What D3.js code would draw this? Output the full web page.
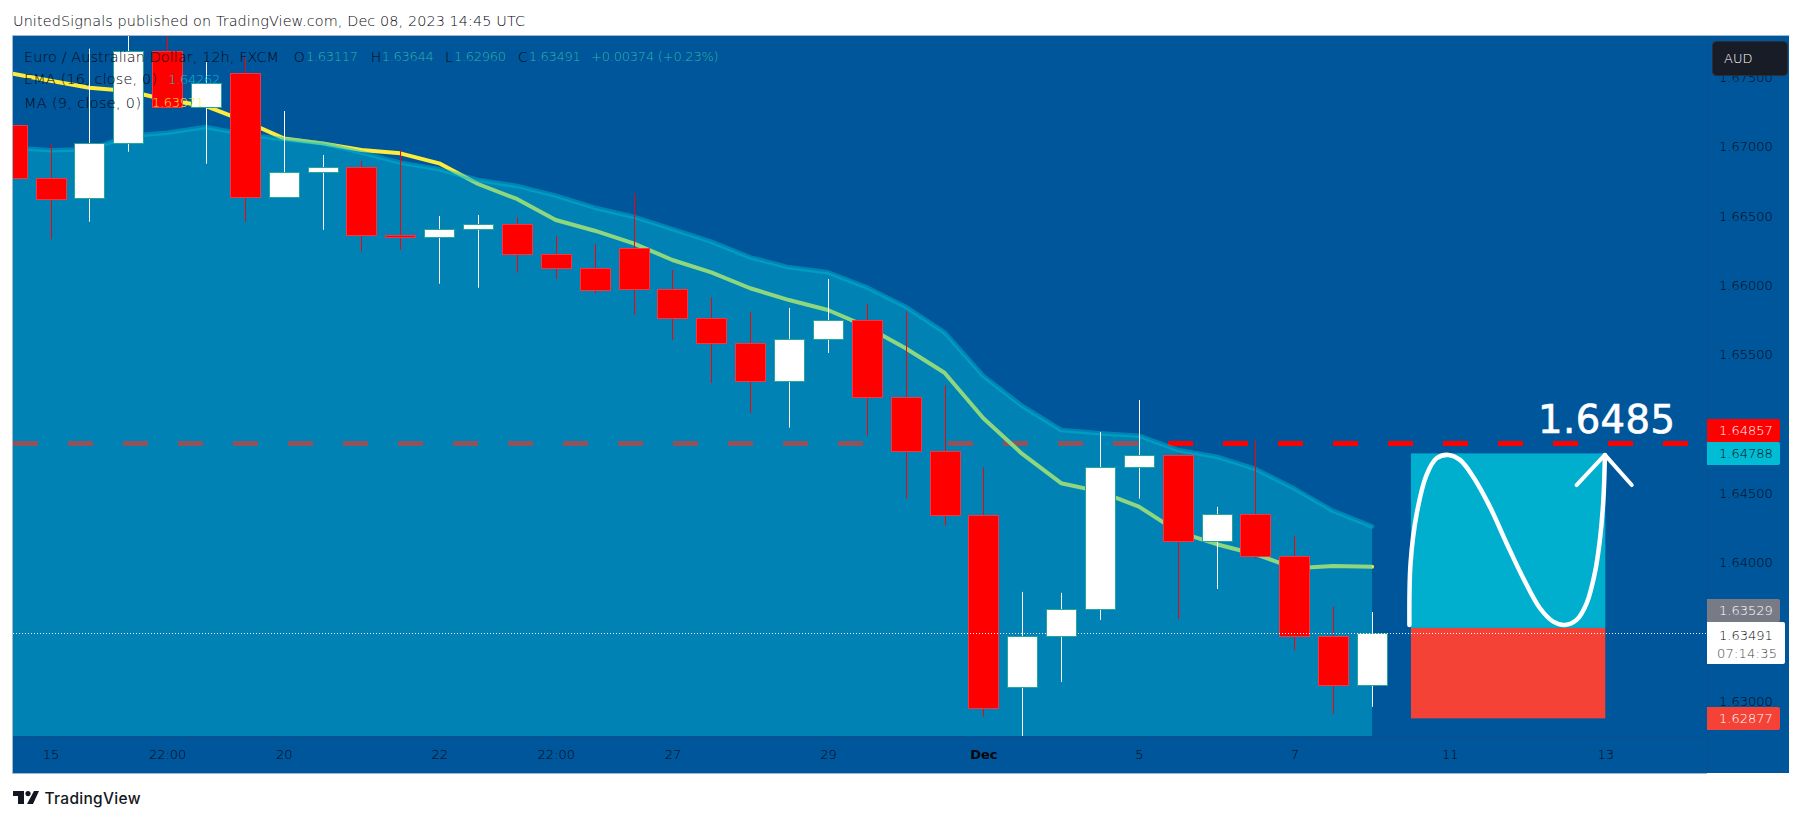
<!DOCTYPE html>
<html><head><meta charset="utf-8">
<style>
html,body{margin:0;padding:0;background:#fff;}
svg{display:block;}
text{font-family:"DejaVu Sans",sans-serif;font-weight:200;}
</style>
<script src="https://cdn.jsdelivr.net/npm/d3@7"></script>
</head><body><svg id="c" width="1803" height="821"></svg>
<script>
const barIndex=[-1,0,1,2,3,4,5,6,7,8,9,10,11,12,13,14,15,16,17,18,19,20,21,22,23,24,25,26,27,28,29,30,31,32,33,34];
const opens=[1.67154,1.66772,1.66628,1.67024,1.67688,1.67288,1.67529,1.66639,1.66815,1.66851,1.66361,1.66347,1.66404,1.66439,1.66223,1.66122,1.66267,1.65972,1.65762,1.65582,1.65308,1.65611,1.65748,1.65193,1.64803,1.64342,1.63101,1.63469,1.63664,1.64692,1.64775,1.64154,1.64349,1.64045,1.63469,1.63117];
const highs=[1.6722,1.67022,1.67707,1.6795,1.6790,1.67611,1.67647,1.67257,1.66940,1.66895,1.66974,1.66500,1.66507,1.66491,1.66356,1.66298,1.66659,1.66111,1.65914,1.65808,1.65837,1.66046,1.65866,1.65810,1.65279,1.64688,1.63789,1.63782,1.64943,1.65173,1.64789,1.64402,1.64885,1.64193,1.63681,1.63644];
const lows=[1.6668,1.66332,1.66459,1.66964,1.67279,1.66877,1.66459,1.66639,1.66401,1.66243,1.66257,1.66012,1.65983,1.66091,1.66046,1.65940,1.65788,1.65606,1.65296,1.65080,1.64974,1.65512,1.64916,1.64462,1.64267,1.62889,1.62700,1.63140,1.63587,1.64462,1.63594,1.63810,1.64032,1.63370,1.62911,1.62960];
const closes=[1.66772,1.66625,1.67024,1.67688,1.67288,1.67457,1.66639,1.66815,1.66851,1.66361,1.66347,1.66404,1.66439,1.66223,1.66122,1.65964,1.65972,1.65762,1.65582,1.65308,1.65611,1.65748,1.65193,1.64803,1.64342,1.62950,1.63469,1.63664,1.64692,1.64775,1.64154,1.64349,1.64045,1.63469,1.63120,1.63491];
const emaValues=[1.66993,1.66974,1.66981,1.67077,1.67101,1.67142,1.67089,1.67053,1.67024,1.66957,1.66885,1.66837,1.66760,1.66717,1.66647,1.66560,1.66495,1.66406,1.66315,1.66202,1.66130,1.66094,1.65986,1.65846,1.65661,1.65346,1.65130,1.64957,1.64933,1.64916,1.64813,1.64764,1.64676,1.64534,1.64373,1.64262];
const maValues=[1.67528,1.67476,1.67425,1.67402,1.67337,1.67293,1.67185,1.67060,1.67024,1.66976,1.66952,1.66880,1.66731,1.66623,1.66471,1.66394,1.66303,1.66183,1.66094,1.65979,1.65894,1.65822,1.65702,1.65546,1.65370,1.65041,1.64784,1.64573,1.64512,1.64404,1.64224,1.64133,1.64061,1.63960,1.63976,1.63971];
const visiblePriceTicks=[1.675,1.67,1.665,1.66,1.655,1.645,1.64,1.63];
const timeTickIdx=[0,3,6,10,13,16,20,24,28,32,36,40];
const timeTickLabels=["15","22:00","20","22","22:00","27","29","Dec","5","7","11","13"];
const targetLine=1.64857, targetBox=1.64788, entry=1.63529, stop=1.62877, lastClose=1.63491;
const boxStartIdx=35, boxEndIdx=40;
const curveIdx=[34.96,34.99,35.15,35.40,35.66,35.96,36.26,36.60,37.03,37.46,37.89,38.32,38.66,38.96,39.26,39.52,39.73,39.86,39.95,39.99];
const curvePrice=[1.63551,1.63996,1.64356,1.64632,1.64753,1.64777,1.64741,1.64620,1.64404,1.64140,1.63888,1.63671,1.63575,1.63551,1.63587,1.63707,1.63924,1.64164,1.64452,1.64777];
const arrowIdx=[39.26,39.99,40.68];
const arrowPrice=[1.64560,1.64777,1.64560];

const svg=d3.select("#c");
const L=13,T=36,R=1707,B=736,FR=1789,FB=773;
const BG="#00569b", DARK="#05070c";
const x=d3.scaleLinear().domain([0,40]).range([50.5,1605.3]);
const y=d3.scaleLinear().domain([1.63,1.67]).range([701.3,146.7]);

svg.append("rect").attr("x",L).attr("y",T).attr("width",FR-L).attr("height",FB-T).attr("fill",BG);
svg.append("path").attr("d",`M${L-.5},${T-.5}H${FR+.5}M${L-.5},${T-.5}V${FB+.5}H${R}`).attr("fill","none").attr("stroke","#9db9d6").attr("stroke-width",1);
svg.append("line").attr("x1",R+.5).attr("x2",R+.5).attr("y1",T).attr("y2",FB).attr("stroke","#0a4f8e");
svg.append("line").attr("x1",L).attr("x2",R).attr("y1",B+.5).attr("y2",B+.5).attr("stroke","#0a4f8e");

svg.append("defs").append("clipPath").attr("id","plot").append("rect").attr("x",L).attr("y",T).attr("width",R-L).attr("height",B-T);
const g=svg.append("g").attr("clip-path","url(#plot)");

// dashed target and MA run under the translucent area
const targetY=Math.round(y(targetLine))-.5;
g.append("line").attr("x1",L).attr("x2",1690).attr("y1",targetY).attr("y2",targetY)
 .attr("stroke","#ff0000").attr("stroke-width",5).attr("stroke-dasharray","25 30");
const lineFn=a=>d3.line().x((d,i)=>x(barIndex[i])).y(d=>y(d))(a);
g.append("path").attr("d",lineFn(maValues)).attr("fill","none").attr("stroke","#ffeb3b").attr("stroke-width",4).attr("stroke-linejoin","round").attr("stroke-linecap","round");
const area=d3.area().x((d,i)=>x(barIndex[i])).y0(B).y1(d=>y(d));
g.append("path").attr("d",area(emaValues)).attr("fill","#00bcd4").attr("fill-opacity",.44);
g.append("path").attr("d",lineFn(emaValues)).attr("fill","none").attr("stroke","#00bcd4").attr("stroke-opacity",.45).attr("stroke-width",4.5).attr("stroke-linejoin","round").attr("stroke-linecap","round");

// trade boxes
g.append("rect").attr("x",x(boxStartIdx)).attr("width",x(boxEndIdx)-x(boxStartIdx)).attr("y",y(targetBox)).attr("height",y(entry)-y(targetBox)).attr("fill","#00afcd");
g.append("rect").attr("x",x(boxStartIdx)).attr("width",x(boxEndIdx)-x(boxStartIdx)).attr("y",y(entry)).attr("height",y(stop)-y(entry)).attr("fill","#f44336");

// candles
const candles=g.append("g");
barIndex.forEach((b,i)=>{
  const up=closes[i]>=opens[i];
  const cx=Math.round(x(b));
  candles.append("line").attr("x1",cx+.5).attr("x2",cx+.5).attr("y1",y(highs[i])).attr("y2",y(lows[i]))
    .attr("stroke",up?"#ffffff":"#ff0000").attr("stroke-width",1);
  const top=Math.round(y(Math.max(opens[i],closes[i])));
  const bot=Math.round(y(Math.min(opens[i],closes[i])));
  candles.append("rect").attr("x",cx-15+.5).attr("width",30).attr("y",top+.5).attr("height",Math.max(1,bot-top))
    .attr("fill",up?"#ffffff":"#ff0000").attr("stroke",up?"#26a69a":"#f23645").attr("stroke-width",1);
});

// close price line
g.append("line").attr("x1",L).attr("x2",R).attr("y1",Math.round(y(lastClose))+.5).attr("y2",Math.round(y(lastClose))+.5)
 .attr("stroke","#fff").attr("stroke-width",1).attr("stroke-dasharray","1 2");

// hand drawn curve and arrow
const curve=d3.line().x((d,i)=>x(curveIdx[i])).y(d=>y(d)).curve(d3.curveCatmullRom);
g.append("path").attr("d",curve(curvePrice)).attr("fill","none").attr("stroke","#fff").attr("stroke-width",4.5).attr("stroke-linecap","round");
const arrow=d3.line().x((d,i)=>x(arrowIdx[i])).y(d=>y(d));
g.append("path").attr("d",arrow(arrowPrice)).attr("fill","none").attr("stroke","#fff").attr("stroke-width",4).attr("stroke-linecap","round").attr("stroke-linejoin","round");
svg.append("text").text("1.6485").attr("x",1538).attr("y",432.5).attr("fill","#fff").attr("stroke","#fff").attr("stroke-width",.7).attr("font-size",38.5).style("font-weight",400).attr("textLength",137).attr("lengthAdjust","spacing");

// axes
const yAxis=d3.axisRight(y).tickValues(visiblePriceTicks).tickSize(0).tickPadding(12).tickFormat(d3.format(".5f"));
const ya=svg.append("g").attr("transform",`translate(${R},0)`).call(yAxis);
ya.select(".domain").remove();
ya.selectAll("text").attr("fill",DARK).attr("font-size",13).style("font-family","'DejaVu Sans'");
const xAxis=d3.axisBottom(x).tickValues(timeTickIdx).tickSize(0).tickPadding(0).tickFormat((d,i)=>timeTickLabels[i]);
const xa=svg.append("g").attr("transform",`translate(0,${B})`).call(xAxis);
xa.select(".domain").remove();
xa.selectAll("text").attr("y",0).attr("dy",0).attr("transform","translate(0,19.5)").attr("dominant-baseline","middle")
  .attr("fill",DARK).attr("font-size",13).style("font-family","'DejaVu Sans'").style("font-weight",(d,i)=>timeTickLabels[i]==="Dec"?"bold":"200");

// price pills
function pill(yt,h,w,fill,txt,col){
  svg.append("path").attr("d",`M${R},${yt}H${R+w-2}q2,0 2,2V${yt+h-2}q0,2 -2,2H${R}Z`).attr("fill",fill);
  svg.append("text").text(txt).attr("x",R+12).attr("y",yt+h/2).attr("dy",".36em").attr("fill",col).attr("font-size",13);
}
pill(419,23,73,"#ff0000","1.64857","#ffffff");
pill(442,23,73,"#00bcd4",targetBox.toFixed(5),DARK);
pill(599,23,73,"#787b86",entry.toFixed(5),"#ffffff");
pill(707,23,73,"#f44336",stop.toFixed(5),"#ffffff");
svg.append("path").attr("d",`M${R},622H${R+76}q2,0 2,2V662q0,2 -2,2H${R}Z`).attr("fill","#fff");
svg.append("text").text(lastClose.toFixed(5)).attr("x",R+12).attr("y",635).attr("dy",".36em").attr("fill",DARK).attr("font-size",13);
svg.append("text").text("07:14:35").attr("x",R+10).attr("y",653.5).attr("dy",".36em").attr("fill","#444750").attr("font-size",13).attr("textLength",60);

// currency badge
svg.append("rect").attr("x",1712.5).attr("y",41.5).attr("width",75).attr("height",34).attr("rx",4).attr("fill","#181c27").attr("stroke","#2a2e39");
svg.append("text").text("AUD").attr("x",1724).attr("y",58.5).attr("dy",".36em").attr("fill","#ffffff").attr("font-size",13);

// legend
const TEAL="#2bb5a8";
function t(s,xp,yp,c,len,size){const e=svg.append("text").text(s).attr("x",xp).attr("y",yp).attr("dy",".36em").attr("fill",c).attr("font-size",size||13);if(len)e.attr("textLength",len);}
t("Euro / Australian Dollar, 12h, FXCM",24,56.7,DARK,255,14.4);
[["O",293.7,"1.63117",306],["H",370.7,"1.63644",381.7],["L",445,"1.62960",454],["C",518,"1.63491",528.7]].forEach(r=>{
  t(r[0],r[1],56.7,DARK,null,14);t(r[2],r[3],56.7,TEAL,52);
});
t("+0.00374 (+0.23%)",591,56.7,TEAL,127.7);
t("EMA (16, close, 0)",24,79.3,DARK,133,14.4);
t("1.64262",168.3,79.3,"#00bcd4",52);
t("MA (9, close, 0)",24,102.7,DARK,117,14.4);
t("1.63971",152,102.7,"#ffeb3b",52);

// header and footer
t("UnitedSignals published on TradingView.com, Dec 08, 2023 14:45 UTC",13,20.7,DARK,512,14.4);
const logo=svg.append("g").attr("transform","translate(13,791)").attr("fill","#131722");
logo.append("path").attr("d","M0,0H11V13H5V5H0Z");
logo.append("circle").attr("cx",15).attr("cy",2.6).attr("r",2.6);
logo.append("path").attr("d","M21,0H26L20,13H14Z");
svg.append("text").text("TradingView").attr("x",44.5).attr("y",798).attr("dy",".36em").attr("fill","#131722").attr("font-size",15.5).style("font-weight",500).style("font-family","'Inter'").attr("textLength",96);
</script></body></html>
